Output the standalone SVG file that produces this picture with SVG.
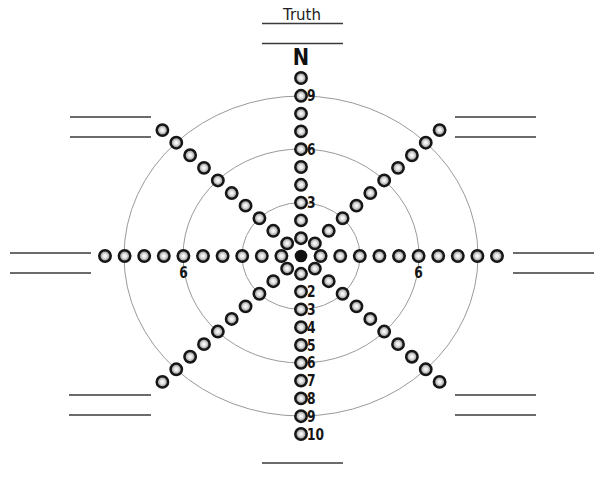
<svg xmlns="http://www.w3.org/2000/svg" xmlns:xlink="http://www.w3.org/1999/xlink" width="598" height="483" viewBox="0 0 598 483">
<style>
.ring{fill:none;stroke:#9a9a9a;stroke-width:1}
.ln{stroke:#3a3a3a;stroke-width:1.4}
.num{font-family:"DejaVu Sans",sans-serif;font-weight:bold;font-size:15px;fill:#151515}
.ttl{font-family:"DejaVu Sans",sans-serif;font-size:15px;fill:#222}
</style>
<defs>
<radialGradient id="g" cx="0.5" cy="0.5" r="0.5">
<stop offset="0" stop-color="#ffffff"/>
<stop offset="0.35" stop-color="#e6e6e6"/>
<stop offset="1" stop-color="#7e7e7e"/>
</radialGradient>
<circle id="c" cx="0" cy="0" r="5.7" fill="url(#g)" stroke="#161616" stroke-width="2.5"/>
</defs>
<rect width="598" height="483" fill="#fff"/>
<g id="rings">
<ellipse class="ring" cx="301" cy="256" rx="177" ry="160"/>
<ellipse class="ring" cx="301" cy="256" rx="118" ry="107"/>
<ellipse class="ring" cx="301" cy="256" rx="59" ry="53.4"/>
</g>
<g id="title">
<text class="ttl" x="302" y="20" text-anchor="middle">Truth</text>
<line class="ln" x1="262" y1="23.5" x2="343" y2="23.5"/>
<line class="ln" x1="262" y1="43.5" x2="343" y2="43.5"/>
<text transform="translate(301 65) scale(0.85 1)" text-anchor="middle" font-family="DejaVu Sans, sans-serif" font-weight="bold" font-size="23" fill="#111">N</text>
</g>
<g id="blanks">
<line class="ln" x1="70" y1="117" x2="151" y2="117"/>
<line class="ln" x1="70" y1="137" x2="151" y2="137"/>
<line class="ln" x1="455" y1="117" x2="536" y2="117"/>
<line class="ln" x1="455" y1="137" x2="536" y2="137"/>
<line class="ln" x1="10" y1="253" x2="91" y2="253"/>
<line class="ln" x1="10" y1="273" x2="91" y2="273"/>
<line class="ln" x1="513" y1="253" x2="594" y2="253"/>
<line class="ln" x1="513" y1="273" x2="594" y2="273"/>
<line class="ln" x1="69" y1="395" x2="151" y2="395"/>
<line class="ln" x1="69" y1="415" x2="151" y2="415"/>
<line class="ln" x1="455" y1="395" x2="536" y2="395"/>
<line class="ln" x1="455" y1="415" x2="536" y2="415"/>
<line class="ln" x1="262" y1="463" x2="343" y2="463"/>
</g>
<g id="spoke-n">
<use href="#c" x="301" y="238.2"/><use href="#c" x="301" y="220.4"/><use href="#c" x="301" y="202.6"/><use href="#c" x="301" y="184.8"/><use href="#c" x="301" y="167"/><use href="#c" x="301" y="149.2"/><use href="#c" x="301" y="131.4"/><use href="#c" x="301" y="113.6"/><use href="#c" x="301" y="95.8"/><use href="#c" x="301" y="78"/>
</g>
<g id="spoke-s">
<use href="#c" x="301" y="273.8"/><use href="#c" x="301" y="291.6"/><use href="#c" x="301" y="309.4"/><use href="#c" x="301" y="327.2"/><use href="#c" x="301" y="345"/><use href="#c" x="301" y="362.8"/><use href="#c" x="301" y="380.6"/><use href="#c" x="301" y="398.4"/><use href="#c" x="301" y="416.2"/><use href="#c" x="301" y="434"/>
</g>
<g id="spoke-w">
<use href="#c" x="281.4" y="256"/><use href="#c" x="261.8" y="256"/><use href="#c" x="242.2" y="256"/><use href="#c" x="222.6" y="256"/><use href="#c" x="203" y="256"/><use href="#c" x="183.4" y="256"/><use href="#c" x="163.8" y="256"/><use href="#c" x="144.2" y="256"/><use href="#c" x="124.6" y="256"/><use href="#c" x="105" y="256"/>
</g>
<g id="spoke-e">
<use href="#c" x="320.6" y="256"/><use href="#c" x="340.2" y="256"/><use href="#c" x="359.8" y="256"/><use href="#c" x="379.4" y="256"/><use href="#c" x="399" y="256"/><use href="#c" x="418.6" y="256"/><use href="#c" x="438.2" y="256"/><use href="#c" x="457.8" y="256"/><use href="#c" x="477.4" y="256"/><use href="#c" x="497" y="256"/>
</g>
<g id="spoke-nw">
<use href="#c" x="287.14" y="243.41"/><use href="#c" x="273.28" y="230.82"/><use href="#c" x="259.42" y="218.23"/><use href="#c" x="245.56" y="205.64"/><use href="#c" x="231.7" y="193.05"/><use href="#c" x="217.84" y="180.46"/><use href="#c" x="203.98" y="167.87"/><use href="#c" x="190.12" y="155.28"/><use href="#c" x="176.26" y="142.69"/><use href="#c" x="162.4" y="130.1"/>
</g>
<g id="spoke-ne">
<use href="#c" x="314.86" y="243.41"/><use href="#c" x="328.72" y="230.82"/><use href="#c" x="342.58" y="218.23"/><use href="#c" x="356.44" y="205.64"/><use href="#c" x="370.3" y="193.05"/><use href="#c" x="384.16" y="180.46"/><use href="#c" x="398.02" y="167.87"/><use href="#c" x="411.88" y="155.28"/><use href="#c" x="425.74" y="142.69"/><use href="#c" x="439.6" y="130.1"/>
</g>
<g id="spoke-sw">
<use href="#c" x="287.14" y="268.59"/><use href="#c" x="273.28" y="281.18"/><use href="#c" x="259.42" y="293.77"/><use href="#c" x="245.56" y="306.36"/><use href="#c" x="231.7" y="318.95"/><use href="#c" x="217.84" y="331.54"/><use href="#c" x="203.98" y="344.13"/><use href="#c" x="190.12" y="356.72"/><use href="#c" x="176.26" y="369.31"/><use href="#c" x="162.4" y="381.9"/>
</g>
<g id="spoke-se">
<use href="#c" x="314.86" y="268.59"/><use href="#c" x="328.72" y="281.18"/><use href="#c" x="342.58" y="293.77"/><use href="#c" x="356.44" y="306.36"/><use href="#c" x="370.3" y="318.95"/><use href="#c" x="384.16" y="331.54"/><use href="#c" x="398.02" y="344.13"/><use href="#c" x="411.88" y="356.72"/><use href="#c" x="425.74" y="369.31"/><use href="#c" x="439.6" y="381.9"/>
</g>
<g id="center">
<circle cx="301" cy="256" r="6.3" fill="#111"/>
</g>
<g id="labels">
<text class="num" transform="translate(307 101.3) scale(0.82 1)">9</text>
<text class="num" transform="translate(307 154.7) scale(0.82 1)">6</text>
<text class="num" transform="translate(307 208.1) scale(0.82 1)">3</text>
<text class="num" transform="translate(183.4 277.5) scale(0.82 1)" text-anchor="middle">6</text>
<text class="num" transform="translate(418.6 277.5) scale(0.82 1)" text-anchor="middle">6</text>
<text class="num" transform="translate(307 297.1) scale(0.82 1)">2</text>
<text class="num" transform="translate(307 314.9) scale(0.82 1)">3</text>
<text class="num" transform="translate(307 332.7) scale(0.82 1)">4</text>
<text class="num" transform="translate(307 350.5) scale(0.82 1)">5</text>
<text class="num" transform="translate(307 368.3) scale(0.82 1)">6</text>
<text class="num" transform="translate(307 386.1) scale(0.82 1)">7</text>
<text class="num" transform="translate(307 403.9) scale(0.82 1)">8</text>
<text class="num" transform="translate(307 421.7) scale(0.82 1)">9</text>
<text class="num" transform="translate(307 439.5) scale(0.82 1)">10</text>
</g>
</svg>
